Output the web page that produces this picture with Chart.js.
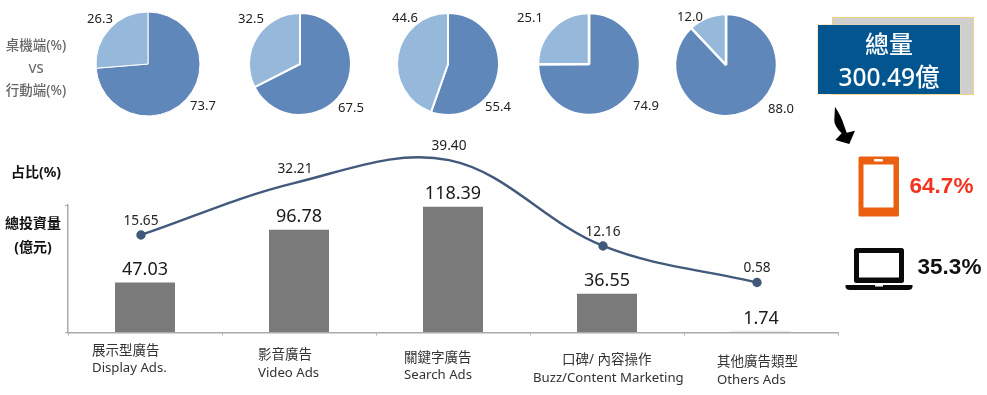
<!DOCTYPE html>
<html lang="zh-Hant">
<head>
<meta charset="utf-8">
<title>廣告投資量</title>
<script src="https://cdn.jsdelivr.net/npm/chart.js@4"></script>
<style>
html,body{margin:0;padding:0;background:#fff;width:987px;height:395px;overflow:hidden}
body{position:relative;font-family:"Noto Sans","Noto Sans CJK TC",sans-serif}
canvas{position:absolute}
.t{position:absolute;white-space:nowrap;transform:translate(-50%,-50%);line-height:1}
svg{position:absolute;left:0;top:0}
.boxb{position:absolute;left:832px;top:17px;width:140px;height:76px;background:#cfcfcf;border:1px solid #f4d27a}
.boxf{position:absolute;left:818px;top:25px;width:142px;height:69px;background:#02558f;box-shadow:0 0 0 .5px #f4d9a0}
</style>
</head>
<body>
<canvas id="main" width="987" height="395" style="left:0;top:0"></canvas>
<canvas id="line" width="987" height="395" style="left:0;top:0"></canvas>
<div class="boxb"></div><div class="boxf"></div>
<svg width="987" height="395" viewBox="0 0 987 395">
  <path d="M835 106.7 Q841 116 843.3 123.3 L846.7 132.7 L855 130.7 L849.3 144 L835.3 140 L841.7 133.3 Q834 126 834.3 120 Z" fill="#000"/>
  <rect x="858.5" y="156.5" width="40.5" height="60" rx="1.5" fill="#eb6010"/>
  <rect x="863.5" y="164.5" width="30" height="43" fill="#fff"/>
  <rect x="874" y="159" width="9" height="2.5" rx="1" fill="#fff"/>
  <rect x="854" y="248" width="50" height="35" rx="2.5" fill="#0a0a0a"/>
  <rect x="859" y="253" width="40" height="24.5" fill="#fff"/>
  <path d="M845.5 285 H912.5 V287 Q912 290 908 290 H850 Q846 290 845.5 287 Z" fill="#0a0a0a"/>
  <rect x="875" y="285" width="8" height="1.5" fill="#fff"/>
</svg>
<div id="texts"></div>
<script>
const categoriesZh = ['展示型廣告','影音廣告','關鍵字廣告','口碑/ 內容操作','其他廣告類型'];
const categoriesEn = ['Display Ads.','Video Ads','Search Ads','Buzz/Content Marketing','Others Ads'];
const spendValues = [47.03,96.78,118.39,36.55,1.74];
const shareValues = [15.65,32.21,39.40,12.16,0.58];
const mobileShare = [73.7,67.5,55.4,74.9,88.0];
const desktopShare = [26.3,32.5,44.6,25.1,12.0];

const FONT = '"Noto Sans","Noto Sans CJK TC",sans-serif';
const DARK = '#5f87b9', LIGHT = '#95b8db', LINE = '#41597a';
const barColors = ['#7a7a7a','#7a7a7a','#7a7a7a','#7a7a7a','#ececec'];

/* layout tables */
const catLabelPos = [[92,351,92,368],[258,355,258,373],[404,358,404,375],[562,360,533,378],[717,362,717,380]];
const barLabelDy = [-13,-13,-13,-13,-12];
const pieCenters = [[148,64],[300,64],[448,64],[589,64],[726,65]];
const pieRadius = [52,51,51,51,51];
const pieBorder = [1,2,2,2.5,2.5];
const pieLabelDelta = [
  [[55,42],[-48,-45]],
  [[51,44],[-49,-45]],
  [[50,43],[-43,-46]],
  [[57,42],[-59,-46]],
  [[55,44],[-36,-48]]
];

const barLabels = {
  id:'barLabels',
  afterDraw(chart){
    const c = chart.ctx; c.save();
    c.textAlign='center'; c.textBaseline='middle';
    c.fillStyle='#1a1a1a'; c.font='18px '+FONT;
    chart.getDatasetMeta(0).data.forEach((el,i)=>{
      c.fillText(spendValues[i].toFixed(2), el.x, el.y+barLabelDy[i]);
    });
    c.textAlign='left'; c.fillStyle='#333';
    categoriesZh.forEach((t,i)=>{
      const p = catLabelPos[i];
      c.font='13.5px '+FONT; c.fillText(t,p[0],p[1]);
      c.font='13.2px '+FONT; c.fillText(categoriesEn[i],p[2],p[3]);
    });
    c.restore();
  }
};
const lineLabels = {
  id:'lineLabels',
  afterDraw(chart){
    const c = chart.ctx; c.save();
    c.textAlign='center'; c.textBaseline='middle';
    c.font='13.7px '+FONT; c.fillStyle='#222';
    chart.getDatasetMeta(0).data.forEach((el,i)=>{
      c.fillText(shareValues[i].toFixed(2), el.x, el.y-14);
    });
    c.restore();
  }
};

new Chart(document.getElementById('main'),{
  type:'bar',
  data:{labels:categoriesEn,datasets:[
    {data:spendValues,backgroundColor:barColors,barPercentage:60/154,categoryPercentage:1}
  ]},
  options:{
    responsive:false,animation:false,
    layout:{padding:{top:205,right:149,left:0,bottom:0}},
    plugins:{legend:{display:false},tooltip:{enabled:false}},
    scales:{
      x:{offset:true,
         grid:{offset:true,drawOnChartArea:false,drawTicks:true,tickLength:3,color:'#aaa'},
         border:{color:'#aaa',width:1.5},
         ticks:{display:false},
         afterFit(s){s.height=62.5}},
      y:{min:0,max:120,
         grid:{drawOnChartArea:false,drawTicks:true,tickLength:3,color:'#aaa'},
         border:{color:'#aaa',width:1.5},
         ticks:{display:false,stepSize:120},
         afterFit(s){s.width=68}}
    }
  },
  plugins:[barLabels]
});

new Chart(document.getElementById('line'),{
  type:'line',
  data:{labels:categoriesEn,datasets:[
    {data:shareValues,borderColor:LINE,backgroundColor:LINE,borderWidth:2.4,tension:0.36,
     pointRadius:3.5,pointHoverRadius:3.5,clip:false}
  ]},
  options:{
    responsive:false,animation:false,
    layout:{padding:{top:205,right:153,left:64,bottom:62.5}},
    plugins:{legend:{display:false},tooltip:{enabled:false}},
    scales:{
      x:{display:false,offset:true},
      y:{display:false,min:-15.3,max:25.17}
    }
  },
  plugins:[lineLabels]
});

mobileShare.forEach((m,i)=>{
  const cv=document.createElement('canvas');
  cv.width=180;cv.height=130;
  cv.style.left=(pieCenters[i][0]-90)+'px';
  cv.style.top=(pieCenters[i][1]-65)+'px';
  document.body.appendChild(cv);
  new Chart(cv,{
    type:'pie',
    data:{labels:['行動端','桌機端'],datasets:[{data:[m,desktopShare[i]],backgroundColor:[DARK,LIGHT],
      borderColor:'#fff',borderWidth:pieBorder[i]}]},
    options:{responsive:false,animation:false,radius:pieRadius[i],
      plugins:{legend:{display:false},tooltip:{enabled:false}}},
    plugins:[{id:'pieLabels',afterDraw(ch){
      const c=ch.ctx,el=ch.getDatasetMeta(0).data[0];
      c.save();c.font='13px '+FONT;c.fillStyle='#222';c.textAlign='center';c.textBaseline='middle';
      [m,desktopShare[i]].forEach((v,k)=>c.fillText(v.toFixed(1),el.x+pieLabelDelta[i][k][0],el.y+pieLabelDelta[i][k][1]));
      c.restore();
    }}]
  });
});

const texts=[
  ['桌機端(%)',36,46,'13.5px','#666',500],
  ['VS',36,68,'13px','#666',500],
  ['行動端(%)',36,91,'13.5px','#666',500],
  ['占比(%)',36,172,'14px','#111',700],
  ['總投資量',33,223,'14px','#111',700],
  ['(億元)',33,247,'14px','#111',700],
  ['總量',889,44,'24px','#fff',500],
  ['300.49億',889,77,'24.5px','#fff',500]
];
const host=document.getElementById('texts');
texts.forEach(([s,x,y,f,col,w])=>{
  const d=document.createElement('div');d.className='t';d.textContent=s;
  d.style.cssText=`left:${x}px;top:${y}px;font-size:${f};color:${col};font-weight:${w}`;
  host.appendChild(d);
});
[['64.7%',941.5,186,'#f5321e'],['35.3%',949.5,267,'#111']].forEach(([s,x,y,col])=>{
  const d=document.createElement('div');d.className='t';d.textContent=s;
  d.style.cssText=`left:${x}px;top:${y}px;font:bold 22.5px "Liberation Sans",Arial,sans-serif;color:${col}`;
  host.appendChild(d);
});
</script>
</body>
</html>
